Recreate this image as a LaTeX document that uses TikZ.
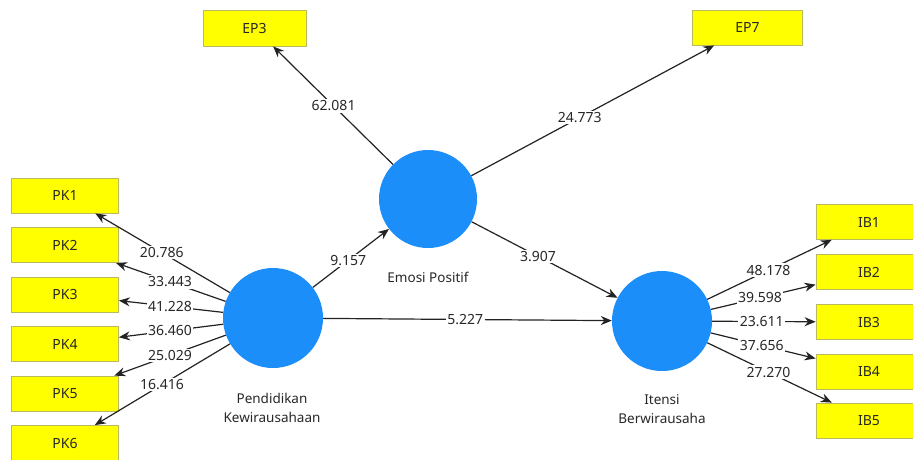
\documentclass[tikz,border=0pt]{standalone}
\usepackage{fontspec}
\setmainfont{Noto Sans}
\usetikzlibrary{arrows.meta,calc}
\definecolor{boxyellow}{RGB}{255,255,0}
\definecolor{boxedge}{RGB}{185,185,95}
\definecolor{lvblue}{RGB}{28,142,250}
\definecolor{linegray}{RGB}{35,35,35}
\definecolor{txtgray}{RGB}{40,40,40}
\begin{document}
\begin{tikzpicture}[x=1pt,y=-1pt,
  indbox/.style={draw=boxedge, fill=boxyellow, line width=0.8pt, minimum width=107pt, minimum height=35pt, inner sep=0pt, font=\fontsize{14}{16}\selectfont, text=txtgray},
  latent/.style={circle, fill=lvblue, minimum size=100pt, inner sep=0pt},
  conn/.style={draw=linegray, line width=1.2pt, -{Stealth[length=11pt,width=9pt]}},
  val/.style={fill=white, inner sep=1.5pt, font=\fontsize{14}{16}\selectfont, text=txtgray},
  lvcap/.style={font=\fontsize{13.5}{19}\selectfont, text=txtgray, align=center}]

\useasboundingbox (0,0) rectangle (913,459);
\fill[white] (0,0) rectangle (913,459);

% latent variables
\node[latent, minimum size=98pt] (ep) at (428,199) {};
\node[latent] (pk) at (273,318) {};
\node[latent] (ib) at (662,321) {};

\node[lvcap] (epcap) at (428,277) {Emosi Positif};
\node[lvcap] (pkcap) at (272,408) {Pendidikan\\Kewirausahaan};
\node[lvcap] (ibcap) at (662,409) {Itensi\\Berwirausaha};

% indicators
\node[indbox, minimum width=103pt, minimum height=36pt] (ep3) at (254.5,28) {EP3};
\node[indbox, minimum width=110pt] (ep7) at (747.5,27.5) {EP7};

\node[indbox] (pk1) at (65,195.5) {PK1};
\node[indbox] (pk2) at (65,245) {PK2};
\node[indbox] (pk3) at (65,294.5) {PK3};
\node[indbox] (pk4) at (65,344) {PK4};
\node[indbox] (pk5) at (65,393.5) {PK5};
\node[indbox] (pk6) at (65,443) {PK6};

\node[indbox, minimum width=106pt] (ib1) at (869,222) {IB1};
\node[indbox, minimum width=106pt] (ib2) at (869,272) {IB2};
\node[indbox, minimum width=106pt] (ib3) at (869,322) {IB3};
\node[indbox, minimum width=106pt] (ib4) at (869,371.5) {IB4};
\node[indbox, minimum width=106pt] (ib5) at (869,420.5) {IB5};

% connectors
\draw[conn] (ep) -- (ep3);
\draw[conn] (ep) -- (ep7);
\draw[conn] (pk) -- (ep);
\draw[conn] (ep) -- (ib);
\draw[conn] (pk) -- (ib);
\foreach \i in {1,...,6} { \draw[conn] (pk) -- (pk\i); }
\foreach \i in {1,...,5} { \draw[conn] (ib) -- (ib\i); }

% values
\node[val] (v1) at ($(ep)!0.544!(ep3)$) {62.081};
\node[val] (v2) at ($(ep)!0.475!(ep7)$) {24.773};
\node[val] (v3) at ($(pk)!0.486!(ep)$) {9.157};
\node[val] (v4) at ($(ep)!0.47!(ib)$) {3.907};
\node[val] (v5) at ($(pk)!0.494!(ib)$) {5.227};

\node[val] (p1) at ($(pk)!0.535!(pk1)$) {20.786};
\node[val] (p2) at ($(pk)!0.495!(pk2)$) {33.443};
\node[val] (p3) at ($(pk)!0.495!(pk3)$) {41.228};
\node[val] (p4) at ($(pk)!0.495!(pk4)$) {36.460};
\node[val] (p5) at ($(pk)!0.495!(pk5)$) {25.029};
\node[val] (p6) at ($(pk)!0.534!(pk6)$) {16.416};

\node[val] (i1) at ($(ib)!0.514!(ib1)$) {48.178};
\node[val] (i2) at ($(ib)!0.473!(ib2)$) {39.598};
\node[val] (i3) at ($(ib)!0.482!(ib3)$) {23.611};
\node[val] (i4) at ($(ib)!0.482!(ib4)$) {37.656};
\node[val] (i5) at ($(ib)!0.514!(ib5)$) {27.270};
\end{tikzpicture}
\end{document}
